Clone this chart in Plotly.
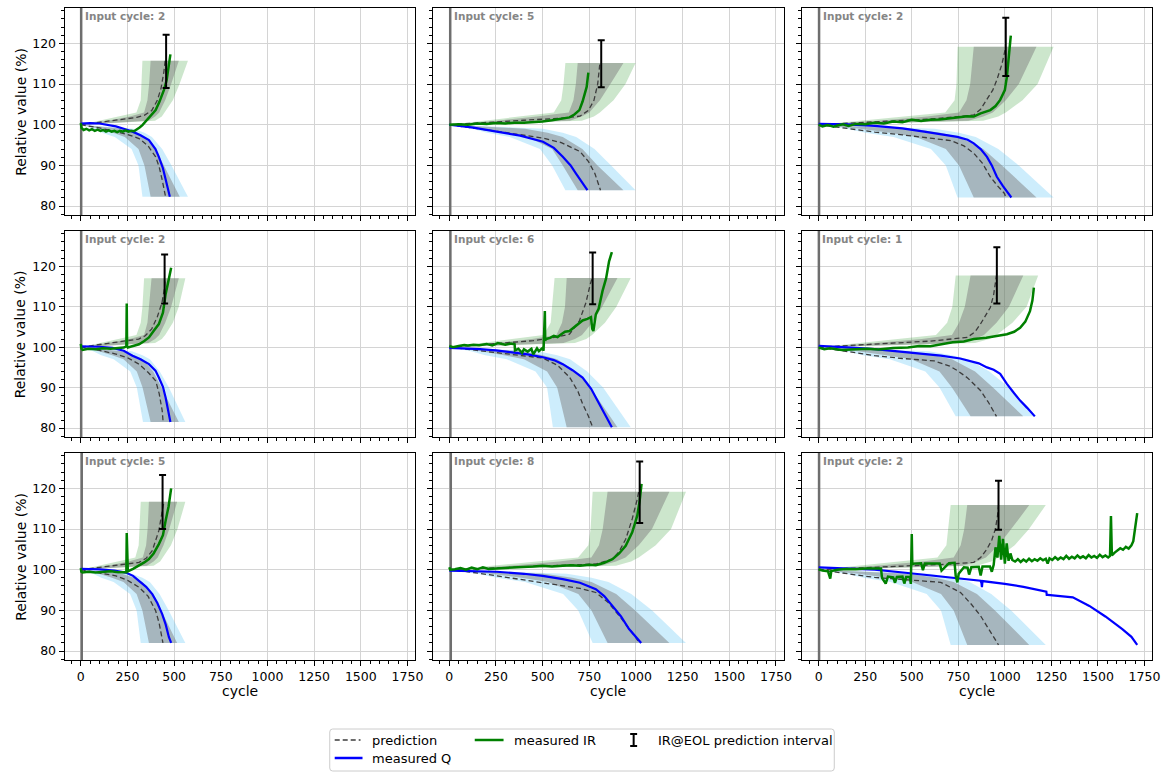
import plotly.graph_objects as go

# ---------------- data ----------------
INPUT_CYCLE = [2, 5, 2, 2, 6, 1, 5, 8, 2]
EOL_CYCLE = [457, 814, 1005, 449, 768, 957, 438, 1020, 966]
EOL_LOW = [109.0, 109.2, 112.0, 110.8, 110.6, 110.8, 110.0, 111.5, 109.8]
EOL_HIGH = [122.1, 120.8, 126.3, 122.9, 123.4, 124.7, 123.3, 126.6, 121.9]

# prediction bands (cycle ranges at each relative-value level)
IR_LEVELS = [100, 101, 102, 103, 106, 110]
IR_BAND_TOP = [115.7, 115.2, 119.2, 117.0, 117.1, 117.7, 116.7, 119.2, 115.9]
IR_OUT_LO = [
    [0, 99, 203, 298, 321, 325, 330],
    [0, 178, 363, 560, 600, 612, 622],
    [0, 221, 452, 680, 730, 740, 746],
    [0, 99, 203, 298, 321, 330, 339],
    [0, 168, 344, 505, 543, 551, 564],
    [0, 210, 430, 630, 690, 718, 736],
    [0, 97, 199, 292, 310, 315, 321],
    [0, 223, 457, 690, 745, 757, 768],
    [0, 213, 435, 638, 686, 696, 709],
]
IR_IN_LO = [
    [0, 145, 262, 339, 357, 366, 374],
    [0, 258, 468, 640, 665, 678, 688],
    [0, 322, 583, 754, 794, 814, 833],
    [0, 145, 262, 339, 357, 366, 379],
    [0, 245, 444, 574, 604, 620, 629],
    [0, 306, 554, 716, 754, 785, 816],
    [0, 142, 257, 332, 350, 358, 365],
    [0, 325, 589, 761, 802, 822, 848],
    [0, 309, 560, 725, 763, 782, 798],
]
IR_IN_HI = [
    [0, 362, 398, 420, 452, 484, 525],
    [0, 646, 710, 750, 807, 863, 933],
    [0, 804, 884, 935, 1005, 1075, 1170],
    [0, 362, 398, 420, 452, 484, 525],
    [0, 612, 673, 711, 765, 819, 901],
    [0, 764, 840, 888, 955, 1022, 1099],
    [0, 354, 390, 412, 443, 474, 516],
    [0, 812, 893, 944, 1015, 1086, 1179],
    [0, 773, 850, 898, 966, 1034, 1131],
]
IR_OUT_HI = [
    [0, 398, 434, 452, 493, 529, 574],
    [0, 710, 775, 807, 880, 944, 998],
    [0, 884, 965, 1005, 1095, 1176, 1262],
    [0, 398, 434, 452, 493, 525, 560],
    [0, 673, 734, 765, 834, 895, 972],
    [0, 840, 917, 955, 1041, 1117, 1179],
    [0, 390, 425, 443, 483, 518, 560],
    [0, 893, 974, 1015, 1106, 1188, 1268],
    [0, 850, 927, 966, 1053, 1130, 1220],
]

Q_LEVELS = [100, 99, 98, 97, 94, 90]
Q_BAND_BOTTOM = [82.3, 83.9, 82.1, 81.5, 80.2, 82.9, 82.0, 82.0, 81.5]
Q_OUT_LO = [
    [0, 68, 114, 182, 272, 309, 330],
    [0, 122, 203, 324, 486, 551, 622],
    [0, 151, 251, 402, 603, 683, 746],
    [0, 66, 110, 176, 265, 300, 333],
    [0, 116, 193, 308, 462, 524, 555],
    [0, 143, 239, 382, 573, 649, 736],
    [0, 66, 110, 176, 264, 299, 321],
    [0, 152, 254, 406, 610, 691, 768],
    [0, 145, 242, 386, 580, 657, 709],
]
Q_IN_LO = [
    [0, 100, 173, 236, 309, 341, 374],
    [0, 178, 308, 421, 551, 608, 688],
    [0, 221, 382, 523, 683, 754, 833],
    [0, 97, 168, 229, 300, 331, 374],
    [0, 169, 293, 400, 524, 578, 629],
    [0, 210, 363, 497, 649, 716, 816],
    [0, 97, 167, 229, 299, 330, 365],
    [0, 224, 386, 528, 691, 762, 848],
    [0, 213, 367, 502, 657, 725, 798],
]
Q_IN_HI = [
    [0, 227, 295, 341, 400, 445, 530],
    [0, 405, 527, 608, 713, 794, 933],
    [0, 503, 653, 754, 884, 985, 1170],
    [0, 221, 287, 331, 388, 432, 525],
    [0, 385, 501, 578, 678, 755, 901],
    [0, 478, 621, 716, 840, 936, 1099],
    [0, 220, 286, 330, 387, 431, 516],
    [0, 508, 660, 762, 894, 996, 1179],
    [0, 483, 628, 725, 850, 947, 1131],
]
Q_OUT_HI = [
    [0, 281, 341, 381, 436, 486, 574],
    [0, 502, 608, 680, 778, 867, 998],
    [0, 623, 754, 844, 965, 1075, 1262],
    [0, 273, 331, 370, 423, 472, 560],
    [0, 477, 578, 647, 739, 824, 972],
    [0, 592, 716, 802, 917, 1022, 1170],
    [0, 273, 330, 370, 422, 471, 560],
    [0, 630, 762, 853, 975, 1087, 1268],
    [0, 599, 725, 811, 927, 1034, 1220],
]

# predicted trajectories (dashed)
IR_PRED_X = [
    [0, 100, 200, 300, 340, 380, 410, 430, 445, 452],
    [0, 200, 400, 600, 700, 745, 775, 795, 807],
    [0, 300, 600, 745, 833, 870, 904, 935, 957, 985, 1005],
    [0, 100, 200, 310, 345, 380, 410, 435, 448, 452],
    [0, 150, 300, 450, 550, 644, 697, 732, 755, 765],
    [0, 300, 600, 798, 840, 869, 900, 922, 940, 955],
    [0, 100, 200, 312, 350, 383, 418, 440, 445],
    [0, 300, 600, 785, 874, 910, 945, 980, 1005, 1015],
    [0, 300, 600, 709, 833, 870, 904, 930, 949, 960, 966],
]
IR_PRED_Y = [
    [100, 100.6, 101.2, 101.8, 102.3, 103.5, 106, 109, 113, 115.7],
    [100, 100.6, 101.1, 101.6, 102.1, 103.5, 106, 110, 115.2],
    [100, 100.7, 101.4, 102, 102.4, 103.8, 106.1, 108.5, 111, 115, 119.2],
    [100, 100.6, 101.2, 102, 102.8, 104.5, 107.5, 111, 114.5, 117],
    [100, 100.5, 101, 101.6, 102.3, 103.2, 106.5, 111, 115.5, 117.1],
    [100, 100.7, 101.5, 102.4, 103.8, 105.7, 108, 109.8, 113, 117.7],
    [100, 100.6, 101.2, 101.8, 102.8, 104.7, 109.6, 115.3, 116.7],
    [100, 100.5, 101, 101.4, 102.6, 104.5, 107.5, 112.5, 117, 119.2],
    [100, 100.6, 101.1, 101.4, 101.8, 103, 105.1, 107.3, 110, 113, 115.9],
]
Q_PRED_X = [
    [0, 100, 188, 250, 312, 360, 401, 420, 436, 448, 454],
    [0, 150, 300, 502, 600, 700, 745, 780, 800, 810],
    [0, 150, 301, 450, 567, 650, 709, 780, 833, 880, 922, 960, 998, 1005],
    [0, 100, 188, 250, 312, 360, 401, 420, 436, 441],
    [0, 150, 300, 420, 502, 580, 644, 690, 714, 745, 768],
    [0, 150, 301, 450, 621, 700, 745, 800, 869, 910, 949, 955],
    [0, 100, 188, 250, 312, 360, 401, 420, 436, 440],
    [0, 100, 254, 400, 500, 608, 700, 785, 850, 910, 960, 1000, 1016],
    [0, 150, 301, 480, 656, 762, 820, 869, 920, 961, 966],
]
Q_PRED_Y = [
    [100, 99.2, 98.3, 97.6, 96.6, 94.8, 92.1, 89.6, 86.4, 84, 82.3],
    [100, 99.1, 98.1, 96.7, 95.6, 93.4, 91, 88, 85.5, 83.9],
    [100, 99.1, 98.2, 97.5, 96.9, 96.5, 96.1, 94.8, 93, 90.5, 87.2, 85, 83.1, 82.1],
    [100, 99.2, 98.3, 97.4, 95.8, 93.8, 91.7, 88.5, 84.3, 81.5],
    [100, 99.2, 98.5, 97.8, 97.3, 95.5, 92.6, 89, 86, 83, 80.2],
    [100, 98.9, 97.9, 97.2, 96.6, 95.4, 94.2, 92.4, 89.3, 86.5, 83.1, 82.9],
    [100, 99.2, 98.5, 97.4, 95.7, 93.5, 89.9, 86.8, 82.5, 82],
    [100, 99.5, 98.5, 97.5, 96.9, 96.1, 95.4, 94.4, 92, 88.7, 85.6, 83.3, 82],
    [100, 99, 98.1, 97.5, 96.9, 94.4, 91.5, 88.7, 85, 82, 81.5],
]

# measured internal resistance (green)
IR_MEAS_X = [
    [0, 4, 15, 30, 45, 60, 75, 90, 105, 120, 135, 150, 165, 180, 195, 210, 225, 240, 255, 270,
     285, 300, 315, 330, 350, 370, 401, 420, 445, 460, 472, 480],
    [0, 50, 100, 150, 200, 250, 300, 350, 400, 450, 500, 550, 600, 644, 670, 697, 714, 730, 736, 745],
    [0, 20, 50, 80, 100, 130, 160, 200, 250, 300, 350, 400, 450, 500, 550, 600, 650, 700, 750, 800,
     833, 870, 922, 950, 975, 1000, 1011, 1020, 1028, 1032],
    [0, 3, 10, 40, 80, 120, 160, 200, 230, 244, 246, 248, 252, 280, 312, 340, 365, 390, 418, 440, 454, 470, 484],
    [0, 20, 50, 80, 100, 130, 160, 200, 230, 260, 300, 330, 350, 352, 370, 390, 400, 420, 440, 450, 470,
     480, 500, 505, 512, 514, 518, 540, 560, 580, 600, 620, 644, 670, 697, 714, 740, 759, 766, 772, 785,
     800, 821, 840, 856, 865, 871],
    [0, 30, 60, 124, 200, 260, 320, 400, 479, 540, 600, 656, 720, 780, 833, 900, 960, 1011, 1050, 1082,
     1110, 1135, 1148, 1156],
    [0, 3, 10, 40, 80, 120, 160, 200, 230, 244, 246, 248, 252, 280, 312, 340, 365, 390, 418, 440, 454, 470, 484],
    [0, 5, 30, 60, 90, 120, 150, 180, 210, 250, 300, 350, 400, 450, 500, 550, 608, 650, 700, 750, 785,
     830, 874, 910, 945, 980, 1007, 1020, 1030],
    [0, 20, 50, 62, 68, 100, 150, 200, 250, 300,
     335, 340, 360, 372, 400, 410, 420, 450, 460, 470,
     490, 495, 500, 503, 510, 550, 560, 570, 620, 650,
     660, 700, 730, 736, 745, 752, 780, 800, 808, 820,
     860, 870, 880, 920, 930, 940, 950, 960, 970, 980,
     990, 1000, 1010, 1020, 1030, 1040, 1055, 1070, 1085, 1100,
     1115, 1130, 1145, 1160, 1175, 1190, 1205, 1220, 1230, 1240,
     1255, 1270, 1285, 1300, 1315, 1330, 1345, 1360, 1375, 1390,
     1405, 1420, 1435, 1450, 1465, 1480, 1495, 1510, 1525, 1540,
     1555, 1565, 1570, 1575, 1590, 1605, 1620, 1635, 1650, 1665,
     1680, 1690, 1700, 1711],
]
IR_MEAS_Y = [
    [100.4, 99.2, 98.7, 99.0, 98.6, 98.9, 98.5, 98.8, 98.5, 98.7, 98.3, 98.6, 98.3, 98.5, 98.2, 98.5,
     98.3, 98.6, 98.3, 98.5, 98.4, 98.8, 99.3, 99.9, 100.9, 102, 103.6, 105.5, 108.5, 111, 114.3, 117.3],
    [100, 100.1, 100, 100.3, 100.2, 100.4, 100.3, 100.5, 100.5, 100.6, 100.8, 101.1, 101.4, 101.8, 102.5,
     103.6, 105.7, 108, 109.3, 112.8],
    [100, 99.6, 99.9, 99.5, 99.8, 100.1, 99.7, 100.2, 100.1, 100.5, 100.3, 100.8, 100.6, 101.2, 100.9,
     101.2, 101.3, 101.6, 101.9, 102.1, 102, 102.8, 103.6, 104.6, 106.1, 108.5, 111.8, 116, 120.5, 121.9],
    [100.8, 99.6, 99.3, 99.6, 99.5, 99.7, 99.6, 99.8, 99.9, 100.2, 110.8, 100.3, 99.9, 100.2, 100.7,
     101.5, 102.4, 104, 105.7, 108.5, 113, 116.5, 119.6],
    [100.3, 100, 100.3, 100.5, 100.4, 100.6, 100.5, 100.8, 100.4, 101, 100.6, 100.9, 100.7, 99.2, 99.6,
     98.6, 99.5, 98.9, 99.6, 98.2, 99.7, 99, 99.8, 99.1, 108.9, 101.6, 102, 102.3, 102.8, 102.5, 103.2,
     103.8, 104, 105, 106, 106.6, 107, 107.4, 104.5, 104, 108.1, 109.5, 113.9, 117, 121.2, 122.8, 123.5],
    [99.9, 99.5, 99.7, 99.3, 99.5, 99.6, 99.4, 99.8, 99.9, 100.3, 100.2, 100.7, 101.2, 101.4, 102, 102.3,
     102.7, 103.2, 103.8, 104.8, 106.3, 108.9, 111.5, 114.7],
    [100.4, 99.5, 99.3, 99.5, 99.3, 99.4, 99.6, 99.4, 99.5, 99.4, 109, 99.7, 99.6, 100.2, 101, 101.8,
     102.6, 104, 106.3, 108.5, 112, 115.5, 120],
    [100.6, 100, 100.1, 100.4, 100, 100.5, 100.1, 100.6, 100.2, 100.3, 100.4, 100.5, 100.5, 100.8, 101,
     100.8, 101, 101.1, 101, 101.2, 101.1, 101.7, 102.6, 104, 105.9, 109.2, 113.3, 117, 121.1],
    [100.1, 99.8, 99.6, 97.8, 99.7, 100.0, 100.2, 100.1, 100.3, 100.2,
     100.3, 98.0, 96.6, 98.3, 98.1, 96.8, 98.2, 98.3, 96.6, 98.2,
     98.2, 96.5, 108.8, 101.3, 101.5, 101.6, 99.9, 101.5, 101.6, 101.5,
     99.8, 101.6, 101.7, 98.5, 96.9, 99.0, 100.6, 100.5, 98.8, 100.6,
     100.7, 98.6, 100.8, 100.8, 99.5, 101.2, 105.5, 103.0, 108.3, 102.5,
     107.6, 101.5, 106.5, 102.2, 104.0, 102.4, 102.0, 102.6, 101.9, 102.5,
     102.0, 102.7, 102.1, 102.6, 102.2, 102.8, 102.3, 102.7, 101.5, 102.8,
     102.4, 103.1, 102.5, 103.0, 102.6, 103.4, 102.7, 103.2, 102.8, 103.5,
     102.9, 103.3, 102.8, 103.6, 103.0, 103.4, 102.9, 103.7, 103.1, 103.5,
     103.0, 103.4, 113.2, 103.5, 104.2, 104.8, 105.3, 104.9, 105.6, 105.2,
     106.0, 107.0, 110.0, 113.9],
]

# measured capacity (blue)
Q_MEAS_X = [
    [0, 50, 100, 150, 188, 230, 277, 320, 365, 400, 418, 440, 454, 470, 477],
    [0, 129, 254, 380, 502, 560, 608, 650, 679, 710, 740],
    [0, 150, 301, 450, 567, 650, 745, 800, 833, 870, 904, 930, 957, 990, 1035],
    [0, 100, 170, 230, 277, 320, 365, 400, 418, 440, 454, 470, 480],
    [0, 80, 165, 250, 342, 420, 502, 560, 608, 660, 714, 760, 803, 840, 871],
    [0, 100, 200, 301, 450, 560, 656, 760, 860, 904, 940, 975, 1011, 1050, 1082, 1120, 1161],
    [0, 100, 180, 241, 280, 312, 350, 383, 410, 436, 455, 472, 484],
    [0, 100, 254, 400, 500, 608, 700, 785, 830, 874, 920, 963, 1000, 1028],
    [0, 150, 300, 479, 656, 800, 869, 874, 877, 880, 900, 1000, 1100, 1223, 1225, 1230, 1365, 1454,
     1540, 1631, 1680, 1711],
]
Q_MEAS_Y = [
    [100.3, 100.4, 100.3, 100, 99.6, 99, 98.3, 97.4, 96.2, 94, 92.1, 89.3, 86.4, 83.8, 82.3],
    [100, 99.3, 98.3, 97.3, 95.8, 94.3, 92.1, 90, 88, 85.8, 83.9],
    [100.2, 100.1, 99.7, 99.1, 98.3, 97.7, 97, 96.3, 95.4, 94, 92.1, 90, 87.2, 84.9, 82.1],
    [100.2, 100.1, 99.8, 99.1, 97.9, 97, 95.8, 94.2, 92.5, 90.2, 87.6, 84.3, 81.5],
    [99.8, 99.7, 99.5, 99.2, 98.7, 98.2, 97.5, 96.8, 95.8, 94.3, 92.5, 89.7, 86, 82.8, 80.2],
    [100.3, 100.1, 99.8, 99.5, 98.8, 98.3, 97.9, 97.2, 96, 95, 94.4, 93.4, 90.9, 88.6, 86.8, 85, 82.9],
    [100.2, 100.1, 99.8, 99.3, 98.5, 97.3, 95.8, 94, 91.8, 89.1, 86.5, 83.4, 82],
    [99.8, 99.7, 99.5, 99, 98.5, 97.7, 96.8, 95.2, 93.5, 91.1, 88.5, 85.4, 83.5, 82],
    [100.6, 100.3, 100, 99.2, 98.4, 97.6, 97.3, 96.8, 95.7, 97.2, 97.1, 96.5, 95.8, 94.6, 93.8, 93.8,
     93.2, 91.1, 88.5, 85.4, 83.5, 81.5],
]

# ---------------- figure ----------------
W, H = 1174, 772
COL_PX = [(65, 418), (436, 789), (808, 1160)]
ROW_PX = [(8, 215), (231, 437), (453, 660)]
X_RANGE = [-87, 1791]
Y_RANGE = [77.8, 128.7]
FONT = "DejaVu Sans"

C_IR_OUT = "rgba(0,128,0,0.2)"
C_Q_OUT = "rgba(100,200,245,0.32)"
C_GRAY = "rgba(128,128,128,0.5)"
C_PRED = "#3c3c3c"

fig = go.Figure()


def band(xa, ya, levels, lo, hi, color):
    xs = list(lo) + list(hi)[::-1]
    ys = list(levels) + list(levels)[::-1]
    fig.add_trace(go.Scatter(x=xs, y=ys, xaxis=xa, yaxis=ya, mode="lines", fill="toself",
                             fillcolor=color, line=dict(width=0), hoverinfo="skip",
                             showlegend=False))


layout = {}
annotations = []
for p in range(9):
    r, c = divmod(p, 3)
    n = p + 1
    xa = "x" if n == 1 else f"x{n}"
    ya = "y" if n == 1 else f"y{n}"
    xk = "xaxis" if n == 1 else f"xaxis{n}"
    yk = "yaxis" if n == 1 else f"yaxis{n}"
    x0, x1 = COL_PX[c]
    y0, y1 = ROW_PX[r]
    layout[xk] = dict(
        domain=[x0 / W, x1 / W], anchor=ya, range=X_RANGE, autorange=False,
        tick0=0, dtick=250, ticks="outside", ticklen=5, tickwidth=1, tickcolor="black",
        showline=True, linecolor="black", linewidth=1, mirror=True,
        showgrid=True, gridcolor="#d4d4d4", gridwidth=1, zeroline=False,
        showticklabels=(r == 2), tickfont=dict(family=FONT, size=12.5, color="black"),
        minor=dict(tick0=0, dtick=50, ticks="outside", ticklen=3, tickwidth=1,
                   tickcolor="black", showgrid=False),
    )
    layout[yk] = dict(
        domain=[1 - y1 / H, 1 - y0 / H], anchor=xa, range=Y_RANGE, autorange=False,
        tick0=0, dtick=10, ticks="outside", ticklen=5, tickwidth=1, tickcolor="black",
        showline=True, linecolor="black", linewidth=1, mirror=True,
        showgrid=True, gridcolor="#d4d4d4", gridwidth=1, zeroline=False,
        showticklabels=(c == 0), tickfont=dict(family=FONT, size=12.5, color="black"),
        minor=dict(tick0=0, dtick=2, ticks="outside", ticklen=3, tickwidth=1,
                   tickcolor="black", showgrid=False),
    )

    # input-cycle marker line
    fig.add_trace(go.Scatter(x=[INPUT_CYCLE[p], INPUT_CYCLE[p]], y=[Y_RANGE[0] - 10, Y_RANGE[1] + 10],
                             xaxis=xa, yaxis=ya, mode="lines",
                             line=dict(color="#6e6e6e", width=2.5), hoverinfo="skip", showlegend=False))

    ir_lv = IR_LEVELS + [IR_BAND_TOP[p]]
    q_lv = Q_LEVELS + [Q_BAND_BOTTOM[p]]
    band(xa, ya, ir_lv, IR_OUT_LO[p], IR_OUT_HI[p], C_IR_OUT)
    band(xa, ya, ir_lv, IR_IN_LO[p], IR_IN_HI[p], C_GRAY)
    band(xa, ya, q_lv, Q_OUT_LO[p], Q_OUT_HI[p], C_Q_OUT)
    band(xa, ya, q_lv, Q_IN_LO[p], Q_IN_HI[p], C_GRAY)

    for px_, py_ in ((IR_PRED_X[p], IR_PRED_Y[p]), (Q_PRED_X[p], Q_PRED_Y[p])):
        fig.add_trace(go.Scatter(x=px_, y=py_, xaxis=xa, yaxis=ya, mode="lines",
                                 line=dict(color=C_PRED, width=1.3, dash="5px,3px"),
                                 hoverinfo="skip", showlegend=False))

    fig.add_trace(go.Scatter(x=Q_MEAS_X[p], y=Q_MEAS_Y[p], xaxis=xa, yaxis=ya, mode="lines",
                             line=dict(color="blue", width=2.2), showlegend=False))
    fig.add_trace(go.Scatter(x=IR_MEAS_X[p], y=IR_MEAS_Y[p], xaxis=xa, yaxis=ya, mode="lines",
                             line=dict(color="green", width=2.5), showlegend=False))

    fig.add_trace(go.Scatter(
        x=[EOL_CYCLE[p]], y=[EOL_LOW[p]], xaxis=xa, yaxis=ya, mode="markers",
        marker=dict(size=1, color="rgba(0,0,0,0)"),
        error_y=dict(type="data", symmetric=False, array=[EOL_HIGH[p] - EOL_LOW[p]],
                     arrayminus=[0], color="black", thickness=2, width=3.5),
        showlegend=False))

    annotations.append(dict(
        x=INPUT_CYCLE[p], y=0.962, xref=xa, yref=f"{ya} domain", xanchor="left", yanchor="middle",
        xshift=1.5, text=f"<b>Input cycle: {INPUT_CYCLE[p]}</b>", showarrow=False,
        font=dict(family=FONT, size=10.5, color="#858585")))

# axis titles
for r, (y0, y1) in enumerate(ROW_PX):
    annotations.append(dict(x=20.5 / W, y=1 - (y0 + y1) / 2 / H, xref="paper", yref="paper",
                            text="Relative value (%)", textangle=-90, showarrow=False,
                            xanchor="center", yanchor="middle",
                            font=dict(family=FONT, size=14, color="black")))
for c, (x0, x1) in enumerate(COL_PX):
    annotations.append(dict(x=(x0 + x1) / 2 / W, y=1 - 691 / H, xref="paper", yref="paper",
                            text="cycle", showarrow=False, xanchor="center", yanchor="middle",
                            font=dict(family=FONT, size=14, color="black")))

# ---------------- legend (drawn manually, matplotlib style) ----------------
def PX(x):
    return x / W


def PY(y):
    return 1 - y / H


shapes = []
lx0, ly0, lx1, ly1, rr = 332, 729, 840, 771, 3
path = (f"M {PX(lx0 + rr)},{PY(ly0)} L {PX(lx1 - rr)},{PY(ly0)} "
        f"Q {PX(lx1)},{PY(ly0)} {PX(lx1)},{PY(ly0 + rr)} L {PX(lx1)},{PY(ly1 - rr)} "
        f"Q {PX(lx1)},{PY(ly1)} {PX(lx1 - rr)},{PY(ly1)} L {PX(lx0 + rr)},{PY(ly1)} "
        f"Q {PX(lx0)},{PY(ly1)} {PX(lx0)},{PY(ly1 - rr)} L {PX(lx0)},{PY(ly0 + rr)} "
        f"Q {PX(lx0)},{PY(ly0)} {PX(lx0 + rr)},{PY(ly0)} Z")
shapes.append(dict(type="path", path=path, xref="paper", yref="paper",
                   line=dict(color="#cccccc", width=1), fillcolor="white", layer="above"))
shapes.append(dict(type="line", x0=PX(337), x1=PX(363), y0=PY(740), y1=PY(740), xref="paper",
                   yref="paper", line=dict(color=C_PRED, width=1.3, dash="5px,3px"), layer="above"))
shapes.append(dict(type="line", x0=PX(337), x1=PX(365), y0=PY(758), y1=PY(758), xref="paper",
                   yref="paper", line=dict(color="blue", width=2.5), layer="above"))
shapes.append(dict(type="line", x0=PX(478), x1=PX(507), y0=PY(740), y1=PY(740), xref="paper",
                   yref="paper", line=dict(color="green", width=2.5), layer="above"))
for seg in ((638, 734, 638, 746), (634.5, 734, 641.5, 734), (634.5, 746, 641.5, 746)):
    shapes.append(dict(type="line", x0=PX(seg[0]), x1=PX(seg[2]), y0=PY(seg[1]), y1=PY(seg[3]),
                       xref="paper", yref="paper", line=dict(color="black", width=2), layer="above"))
for text, x, y in (("prediction", 372.5, 740), ("measured Q", 372.5, 758),
                   ("measured IR", 516, 740), ("IR@EOL prediction interval", 661, 740)):
    annotations.append(dict(x=PX(x), y=PY(y), xref="paper", yref="paper", text=text,
                            showarrow=False, xanchor="left", yanchor="middle",
                            font=dict(family=FONT, size=13, color="black")))

fig.update_layout(
    width=W, height=H, margin=dict(l=0, r=0, t=0, b=0),
    paper_bgcolor="white", plot_bgcolor="white", showlegend=False,
    font=dict(family=FONT, color="black"),
    annotations=annotations, shapes=shapes, **layout,
)

fig.write_html("out.html", config={"displayModeBar": False},
               post_script="document.body.style.margin='0';document.body.style.overflow='hidden';")
